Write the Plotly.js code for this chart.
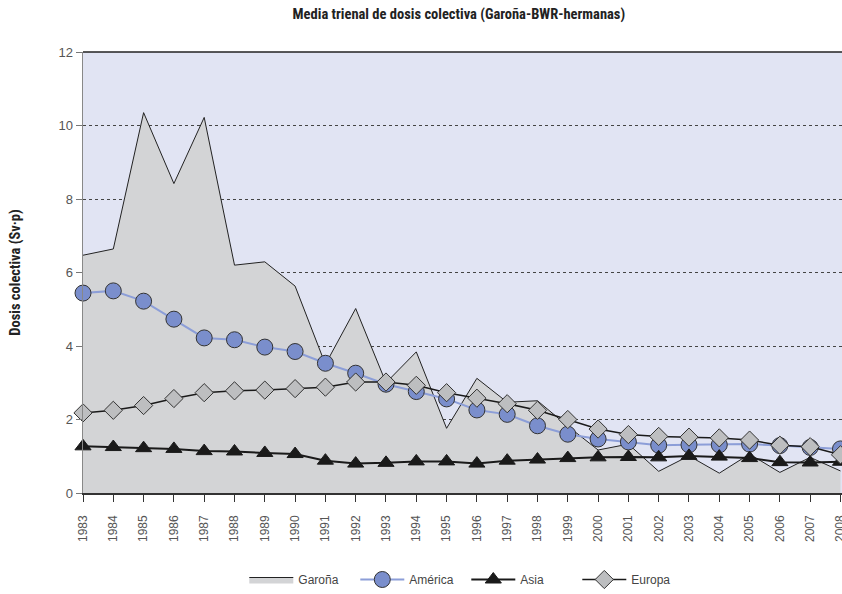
<!DOCTYPE html>
<html>
<head>
<meta charset="utf-8">
<script src="https://cdn.plot.ly/plotly-3.0.1.min.js"></script>
<style>html,body{margin:0;padding:0;background:#fff;}#chart{width:842px;height:594px;}</style>
</head>
<body>
<div id="chart"></div>
<script>
const years = [1983,1984,1985,1986,1987,1988,1989,1990,1991,1992,1993,1994,1995,1996,1997,1998,1999,2000,2001,2002,2003,2004,2005,2006,2007,2008];
const garona = [6.47,6.64,10.35,8.42,10.22,6.2,6.29,5.63,3.5,5.02,3.0,3.84,1.76,3.12,2.47,2.51,1.82,1.17,1.33,0.59,1.01,0.54,1.06,0.56,0.97,0.6];
const america = [5.44,5.5,5.22,4.73,4.22,4.17,3.97,3.85,3.53,3.26,2.96,2.76,2.56,2.26,2.14,1.83,1.6,1.47,1.39,1.3,1.31,1.31,1.33,1.29,1.24,1.2];
const asia = [1.27,1.25,1.22,1.2,1.14,1.13,1.09,1.06,0.88,0.8,0.82,0.86,0.86,0.8,0.88,0.91,0.95,0.97,0.98,0.97,1.01,0.99,0.95,0.84,0.83,0.85];
const europa = [2.18,2.25,2.38,2.57,2.73,2.78,2.8,2.84,2.88,3.02,3.02,2.93,2.73,2.58,2.43,2.25,2.0,1.74,1.59,1.54,1.52,1.5,1.44,1.3,1.26,1.04];
const yTicks = [0,2,4,6,8,10,12];

const traces = [
  {x: years, y: garona, name: 'Garoña', type: 'scatter', mode: 'lines', fill: 'tozeroy',
   fillcolor: '#D3D4D6', line: {color: '#222', width: 1}},
  {x: years, y: america, name: 'América', type: 'scatter', mode: 'lines+markers', cliponaxis: false,
   line: {color: '#8C9ED8', width: 2},
   marker: {symbol: 'circle', size: 16, color: '#7A8ECC', line: {color: '#333', width: 1}}},
  {x: years, y: asia, name: 'Asia', type: 'scatter', mode: 'lines+markers', cliponaxis: false,
   line: {color: '#1a1a1a', width: 2},
   marker: {symbol: 'triangle-up', size: 14, color: '#1a1a1a', line: {color: '#1a1a1a', width: 1}}},
  {x: years, y: europa, name: 'Europa', type: 'scatter', mode: 'lines+markers', cliponaxis: false,
   line: {color: '#1a1a1a', width: 1.5},
   marker: {symbol: 'diamond', size: 14, color: '#BDBEC0', line: {color: '#333', width: 1}}}
];

const condensed = 'Roboto Condensed, Liberation Sans Narrow, Arial Narrow, Roboto, sans-serif';

const layout = {
  width: 842, height: 594,
  margin: {l: 83, r: 0, t: 52, b: 100, pad: 0},
  paper_bgcolor: '#ffffff',
  plot_bgcolor: '#E1E4F3',
  showlegend: true,
  title: {text: 'Media trienal de dosis colectiva (Garoña-BWR-hermanas)',
          font: {family: condensed, size: 14.5, color: '#222', weight: 'bold'},
          x: 0.545, xanchor: 'center', y: 0.977, yanchor: 'middle'},
  xaxis: {
    range: [1983, 2008.05], tickmode: 'array', tickvals: years, ticktext: years.map(String),
    tickangle: -90, ticks: 'outside', ticklen: 7, tickcolor: '#333', tickwidth: 1,
    ticklabelstandoff: 9, ticklabeloverflow: 'allow',
    showgrid: false, zeroline: false, showline: true, linecolor: '#333', linewidth: 1.5,
    tickfont: {family: 'Liberation Sans, Arial, sans-serif', size: 12, color: '#555'},
    fixedrange: true
  },
  yaxis: {
    range: [0, 12], tickmode: 'array', tickvals: yTicks,
    ticks: 'outside', ticklen: 6, tickcolor: '#777', tickwidth: 1,
    showgrid: true, gridcolor: '#444', griddash: 'dot', gridwidth: 1,
    zeroline: false, showline: true, linecolor: '#888', linewidth: 1.5,
    tickfont: {family: 'Liberation Sans, Arial, sans-serif', size: 13, color: '#555'},
    title: {text: 'Dosis colectiva (Sv·p)', standoff: 34,
            font: {family: condensed, size: 14.5, color: '#222', weight: 'bold'}},
    fixedrange: true
  },
  legend: {orientation: 'h', x: 0.505, xanchor: 'center', y: -0.197, yanchor: 'middle',
           font: {family: 'Liberation Sans, Arial, sans-serif', size: 12, color: '#444'},
           itemwidth: 44, entrywidth: 52, bgcolor: 'rgba(0,0,0,0)'},
  shapes: [
    {type: 'line', xref: 'paper', yref: 'paper', x0: 0, x1: 1, y0: 1, y1: 1,
     line: {color: '#222', width: 1.5}}
  ]
};

Plotly.newPlot('chart', traces, layout, {displayModeBar: false, staticPlot: true});
</script>
</body>
</html>
